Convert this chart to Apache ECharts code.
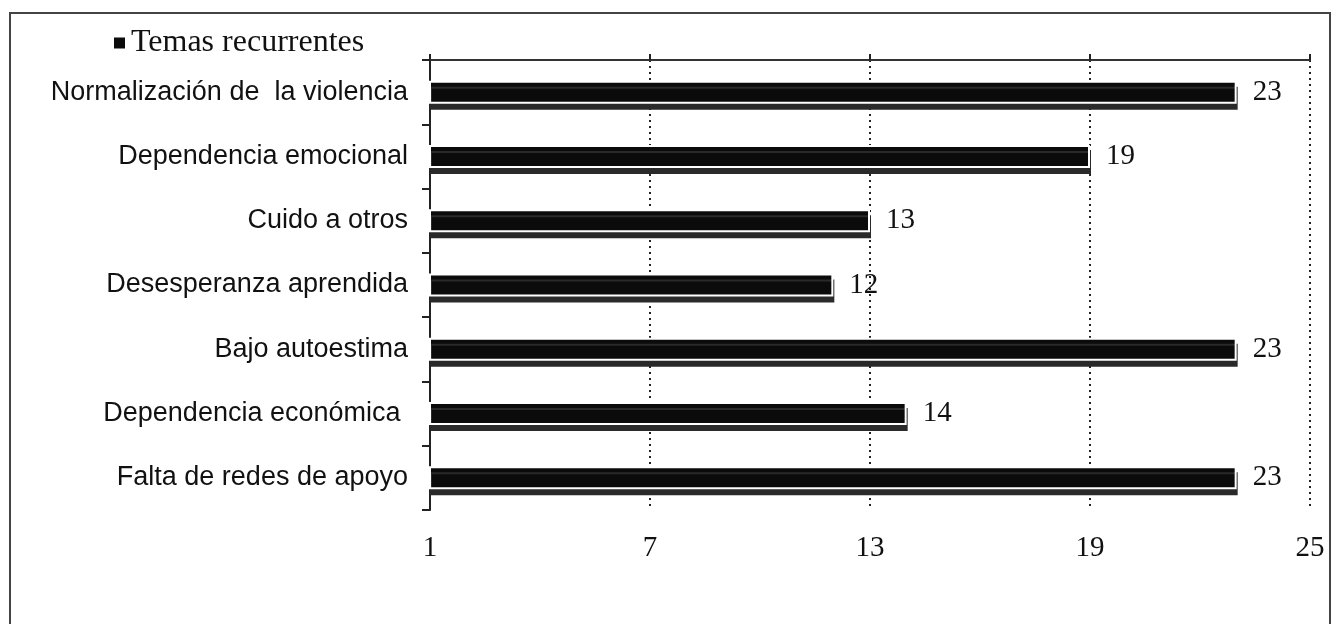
<!DOCTYPE html>
<html><head><meta charset="utf-8">
<script src="https://cdn.jsdelivr.net/npm/echarts@6/dist/echarts.min.js"></script>
<style>html,body{margin:0;padding:0;background:#fff}#c{width:1335px;height:624px}</style>
</head><body><div id="c"></div>
<script>
const categories = ["Normalización de  la violencia","Dependencia emocional","Cuido a otros","Desesperanza aprendida","Bajo autoestima","Dependencia económica ","Falta de redes de apoyo"];
const values = [23, 19, 13, 12, 23, 14, 23];
const seriesName = "Temas recurrentes";
const axisMin = 1, axisMax = 25, axisStep = 6;

const chart = echarts.init(document.getElementById('c'), null, {renderer:'canvas'});
chart.setOption({
  animation:false,
  backgroundColor:'#fff',
  legend:{data:[seriesName], left:107, top:22, icon:'rect', itemWidth:13, itemHeight:13, itemGap:12,
    textStyle:{fontFamily:'Liberation Serif', fontSize:32, color:'#111'}},
  grid:{left:430, right:25, top:60, bottom:114, containLabel:false},
  xAxis:[{
    type:'value', min:axisMin, max:axisMax, interval:axisStep, position:'bottom',
    axisLine:{show:false}, axisTick:{show:false},
    axisLabel:{margin:24, fontFamily:'Liberation Serif', fontSize:29, color:'#111'},
    splitLine:{show:true, lineStyle:{type:[2,4], color:'#222', width:2}}
  },{
    type:'value', min:axisMin, max:axisMax, interval:axisStep, position:'top',
    axisLine:{show:true, lineStyle:{color:'#333', width:2}},
    axisTick:{show:true, length:6, lineStyle:{color:'#222', width:2}},
    axisLabel:{show:false}, splitLine:{show:false}
  }],
  yAxis:{type:'category', data:categories, inverse:true,
    axisLine:{show:true, lineStyle:{color:'#222', width:2}},
    axisTick:{show:true, length:8, lineStyle:{color:'#222', width:2}},
    axisLabel:{margin:22, fontFamily:'Liberation Sans', fontSize:27, color:'#111'}},
  series:[{
    name:seriesName, type:'bar', data:values, barWidth:23, xAxisIndex:0,
    itemStyle:{color:'#0b0b0b', borderColor:'#fff', borderWidth:2,
      shadowColor:'#2a2a2a', shadowOffsetY:6, shadowOffsetX:1, shadowBlur:0},
    label:{show:true, position:'right', distance:16, fontFamily:'Liberation Serif', fontSize:29, color:'#111'}
  }],
  graphic:[{type:'rect', shape:{x:10, y:13, width:1320, height:640},
    style:{fill:null, stroke:'#444', lineWidth:2}, silent:true}]
});
</script></body></html>
